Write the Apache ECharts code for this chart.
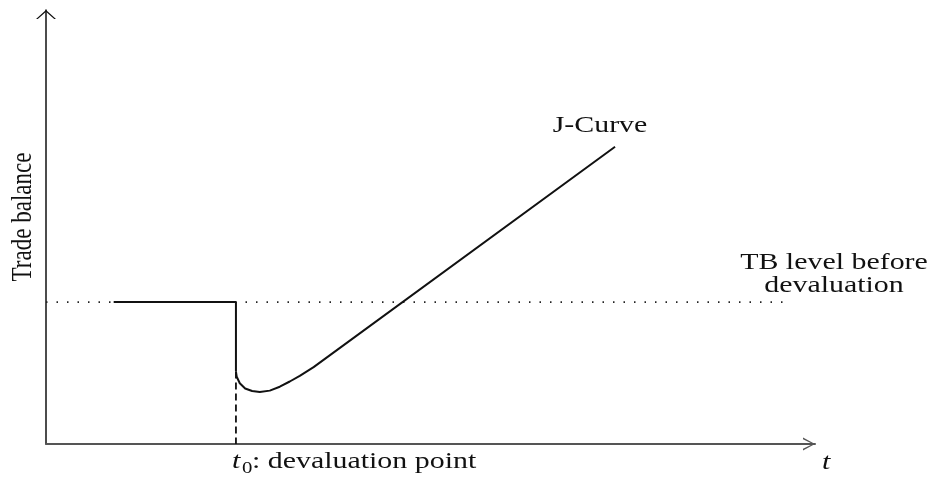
<!DOCTYPE html>
<html>
<head>
<meta charset="utf-8">
<style>
  html, body { margin: 0; padding: 0; background: #fff; }
  #main { width: 932px; height: 477px; }
</style>
<script src="https://cdn.jsdelivr.net/npm/echarts@6/dist/echarts.min.js"></script>
</head>
<body>
<div id="main"></div>
<script>
// time runs 0..100, trade balance 0..100 (schematic units)
var tbLevel = 32.7;          // trade balance before devaluation
var t0 = 24.7;               // devaluation point
var levelX = [0, 96];        // extent of the dotted reference level

// balance before devaluation, then the sudden drop at t0
var beforeX = [8.8, 24.7, 24.7];
var beforeY = [32.7, 32.7, 16.7];

// J-curve after devaluation
var curveX = [24.7, 24.8, 25.2, 25.9, 26.8, 27.8, 29.1, 30.4, 31.7, 33.0, 34.8, 74.0];
var curveY = [16.7, 15.5, 14.0, 12.8, 12.2, 12.0, 12.3, 13.2, 14.4, 15.7, 17.7, 68.5];

function pairs(xs, ys) {
    return xs.map(function (x, i) { return [x, ys[i]]; });
}

var serif = '"Liberation Serif", "Times New Roman", serif';
var stretch = 1.3;

var myChart = echarts.init(document.getElementById('main'));

var option = {
    animation: false,
    grid: { left: 46, right: 117, top: 10, bottom: 33, outerBoundsMode: 'none' },
    xAxis: {
        type: 'value', min: 0, max: 100,
        axisLine: {
            lineStyle: { color: '#555', width: 2 },
            symbol: ['none', 'path://M6.5,0 L13,12 L11.3,12 L6.5,2.2 L1.7,12 L0,12 Z'],
            symbolSize: [13, 12],
            symbolOffset: [0, -6]
        },
        axisTick: { show: false },
        axisLabel: { show: false },
        splitLine: { show: false }
    },
    yAxis: {
        type: 'value', min: 0, max: 100,
        axisLine: {
            lineStyle: { color: '#111', width: 1.5 },
            symbol: ['none', 'path://M10,0 L20,9 L18.2,9 L10,1.7 L1.8,9 L0,9 Z'],
            symbolSize: [20, 9],
            symbolOffset: [0, -4.5]
        },
        axisTick: { show: false },
        axisLabel: { show: false },
        splitLine: { show: false }
    },
    series: [
        {
            name: 'TB level',
            type: 'line',
            data: pairs(levelX, [tbLevel, tbLevel]),
            symbol: 'none',
            z: 1,
            lineStyle: { color: '#222', width: 1.6, type: [1.5, 9] }
        },
        {
            name: 't0 marker',
            type: 'line',
            data: pairs([t0, t0], [beforeY[2], 0]),
            symbol: 'none',
            z: 1,
            lineStyle: { color: '#111', width: 1.8, type: [7, 4] }
        },
        {
            name: 'Before',
            type: 'line',
            data: pairs(beforeX, beforeY),
            symbol: 'none',
            z: 3,
            lineStyle: { color: '#111', width: 2 }
        },
        {
            name: 'J-Curve',
            type: 'line',
            data: pairs(curveX, curveY),
            symbol: 'none',
            z: 3,
            lineStyle: { color: '#111', width: 2, join: 'round' }
        }
    ],
    graphic: [
        {
            type: 'text', x: 600, y: 125.5, scaleX: stretch,
            style: { text: 'J-Curve', font: '23px ' + serif, fill: '#111',
                     textAlign: 'center', textVerticalAlign: 'middle' }
        },
        {
            type: 'text', x: 834, y: 274, scaleX: stretch,
            style: { text: 'TB level before\ndevaluation', font: '23px ' + serif, fill: '#111',
                     lineHeight: 23, textAlign: 'center', textVerticalAlign: 'middle' }
        },
        {
            type: 'text', x: 23.4, y: 217, rotation: Math.PI / 2, scaleY: stretch,
            style: { text: 'Trade balance', font: '23px ' + serif, fill: '#111',
                     textAlign: 'center', textVerticalAlign: 'middle' }
        },
        {
            type: 'text', x: 232, y: 462, scaleX: stretch,
            style: { text: 't', font: 'italic 23px ' + serif, fill: '#111',
                     textAlign: 'left', textVerticalAlign: 'middle' }
        },
        {
            type: 'text', x: 242, y: 469, scaleX: stretch,
            style: { text: '0', font: '16px ' + serif, fill: '#111',
                     textAlign: 'left', textVerticalAlign: 'middle' }
        },
        {
            type: 'text', x: 252, y: 462, scaleX: stretch,
            style: { text: ': devaluation point', font: '23px ' + serif, fill: '#111',
                     textAlign: 'left', textVerticalAlign: 'middle' }
        },
        {
            type: 'text', x: 822, y: 463, scaleX: stretch,
            style: { text: 't', font: 'italic 23px ' + serif, fill: '#111',
                     textAlign: 'left', textVerticalAlign: 'middle' }
        }
    ]
};

myChart.setOption(option);
</script>
</body>
</html>
